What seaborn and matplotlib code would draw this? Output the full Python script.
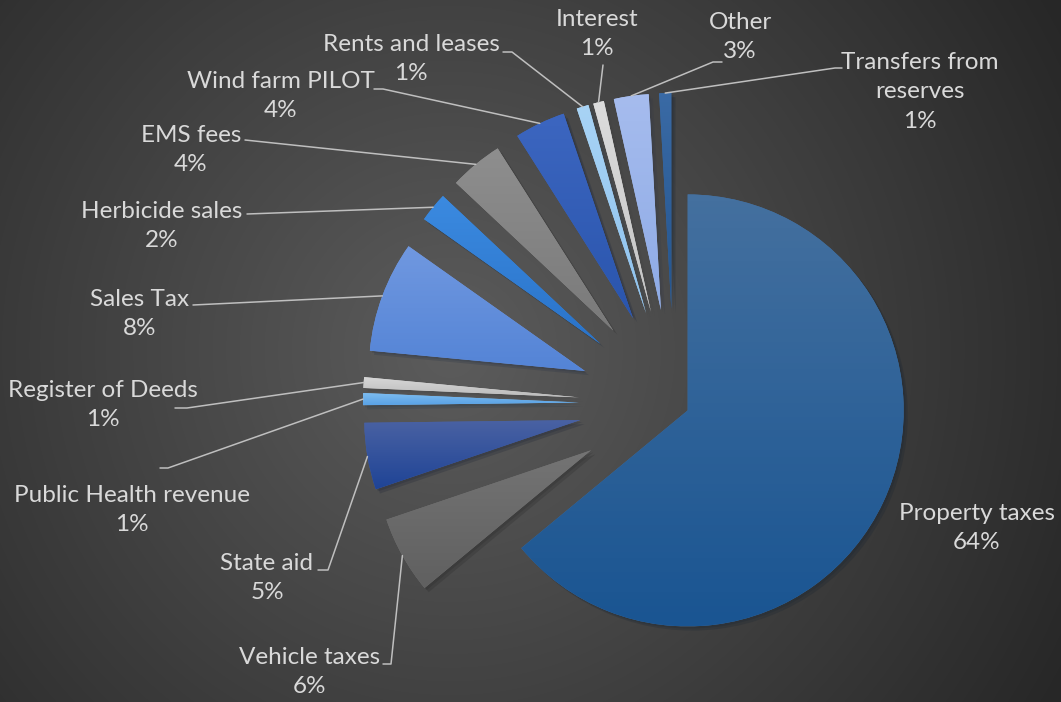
import numpy as np
import matplotlib
matplotlib.use("Agg")
import matplotlib.pyplot as plt
import matplotlib.patheffects as pe
import seaborn as sns

# revenue shares (percent), clockwise from 12 o'clock
categories = ["Property taxes", "Vehicle taxes", "State aid", "Public Health revenue",
              "Register of Deeds", "Sales Tax", "Herbicide sales", "EMS fees",
              "Wind farm PILOT", "Rents and leases", "Interest", "Other",
              "Transfers from\nreserves"]
shares = [64.0, 5.8, 5.0, 0.9, 0.8, 8.3, 2.2, 4.0, 3.8, 0.9, 0.8, 2.6, 0.9]

# gradient (top, bottom) per slice
top_colors = ["#44709f", "#747474", "#4a62a3", "#7fbdf0", "#d8d8d8", "#7098e0", "#3b8ae0",
              "#8e8e8e", "#3c66c0", "#a8d3f5", "#dcdcdc", "#a6bcee", "#3a6aa5"]
bottom_colors = ["#1a5592", "#606060", "#1f4496", "#5aa3e6", "#bcbcbc", "#5484d6", "#2a73c9",
                 "#7a7a7a", "#2a55ad", "#8ec2ee", "#c4c4c4", "#8eabe6", "#23558f"]

sns.set_theme(style="white")
plt.rcParams["font.family"] = ["Lato", "DejaVu Sans"]

W, H = 1061, 702
fig = plt.figure(figsize=(W / 100, H / 100), dpi=100)
ax = fig.add_axes([0, 0, 1, 1])

# radial background
yy, xx = np.mgrid[0:H, 0:W]
dist = np.hypot(xx - 450, yy - 350) / 700
bg = sns.blend_palette(["#5c5c5c", "#272727"], as_cmap=True)
ax.imshow(np.clip(dist, 0, 1), cmap=bg, vmin=0, vmax=1, extent=(0, W, 0, H),
          origin="upper", zorder=0, aspect="auto")

cx, cy, R = 674, H - 404, 216
# pie() offsets wedges in data units, so scale the fractions by the radius
explode = [0.07 * R] + [0.44 * R] * (len(shares) - 1)
wedges, _ = ax.pie(shares, explode=explode, colors=top_colors, startangle=90,
                   counterclock=False, center=(cx, cy), radius=R,
                   wedgeprops=dict(linewidth=0, zorder=1))

for w, c1, c2 in zip(wedges, top_colors, bottom_colors):
    w.set_path_effects([pe.SimplePatchShadow(offset=(3, -3), alpha=0.22),
                        pe.SimplePatchShadow(offset=(1.5, -1.5), alpha=0.2),
                        pe.Normal()])
    x0, y0, x1, y1 = w.get_path().get_extents().extents
    grad = np.linspace(0, 1, 64).reshape(-1, 1)
    cmap = sns.blend_palette([c1, c2], as_cmap=True)
    im = ax.imshow(grad, cmap=cmap, extent=(x0, x1, y0, y1), origin="upper",
                   aspect="auto", zorder=2)
    im.set_clip_path(w)

# label layout in pixel coords: text centre and leader points from the text side
layout = [
    ((977, 528), []),
    ((310, 672), [(383, 664), (391, 664)]),
    ((267, 578), [(318, 570), (328, 570)]),
    ((132, 510), [(160, 468), (168, 468)]),
    ((103, 405), [(175, 408), (187, 408)]),
    ((140, 314), [(193, 305)]),
    ((162, 226), [(247, 214)]),
    ((191, 150), [(245, 140)]),
    ((281, 96), [(374, 89), (383, 89)]),
    ((411, 59), [(503, 52), (512, 52)]),
    ((597, 34), [(603, 65)]),
    ((740, 37), [(722, 62), (713, 62)]),
    ((920, 92), [(842, 68), (835, 68)]),
]

for w, name, val, (pos, pts) in zip(wedges, categories, shares, layout):
    ax.text(pos[0], H - pos[1], f"{name}\n{val:.0f}%", ha="center", va="center",
            fontsize=17.5, color="#d9d9d9", linespacing=1.48, zorder=5)
    if pts:
        mid = np.deg2rad((w.theta1 + w.theta2) / 2)
        ex = w.center[0] + w.r * np.cos(mid)
        ey = w.center[1] + w.r * np.sin(mid)
        xs = [p[0] for p in pts] + [ex]
        ys = [H - p[1] for p in pts] + [ey]
        ax.plot(xs, ys, color="#bfbfbf", lw=1.1, zorder=4)

ax.set_xlim(0, W)
ax.set_ylim(0, H)
ax.axis("off")
fig.savefig("out.png", dpi=100)
